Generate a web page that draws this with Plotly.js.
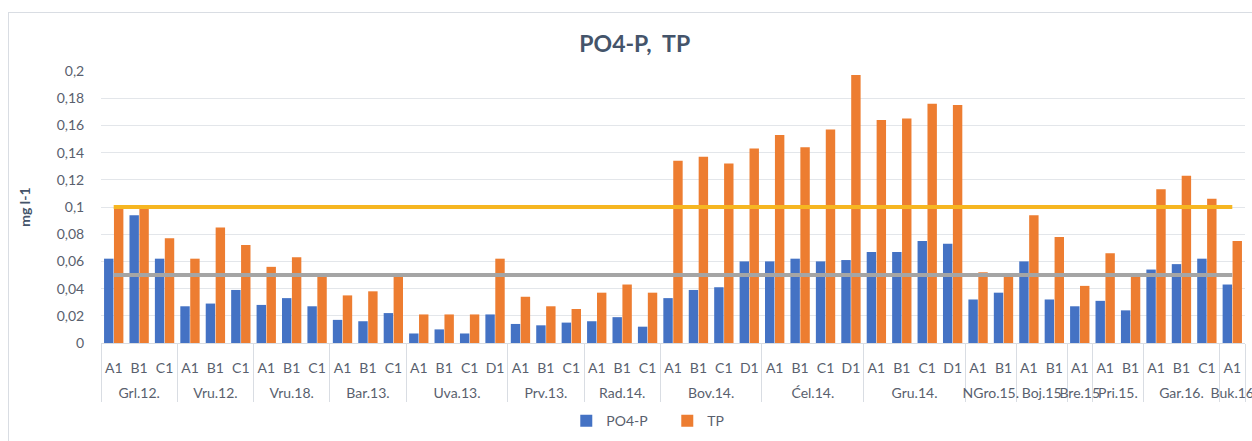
<!DOCTYPE html>
<html>
<head>
<meta charset="utf-8">
<script src="https://cdn.plot.ly/plotly-3.0.1.min.js"></script>
<style>
  body { margin: 0; background: #fff; }
  #plot { width: 1252px; height: 441px; }
  #frame { position: absolute; left: 8px; top: 12px; width: 1260px; height: 440px;
           border: 1px solid #d9dde3; pointer-events: none; }
</style>
</head>
<body>
<div id="plot"></div>
<div id="frame"></div>
<script>
// stations and the samples taken at each one
let stations = ['Grl.12.', 'Vru.12.', 'Vru.18.', 'Bar.13.', 'Uva.13.', 'Prv.13.', 'Rad.14.',
                'Bov.14.', 'Ćel.14.', 'Gru.14.', 'NGro.15.', 'Boj.15', 'Bre.15', 'Pri.15.',
                'Gar.16.', 'Buk.16'];
let samples = [
  ['A1', 'B1', 'C1'], ['A1', 'B1', 'C1'], ['A1', 'B1', 'C1'], ['A1', 'B1', 'C1'],
  ['A1', 'B1', 'C1', 'D1'], ['A1', 'B1', 'C1'], ['A1', 'B1', 'C1'],
  ['A1', 'B1', 'C1', 'D1'], ['A1', 'B1', 'C1', 'D1'], ['A1', 'B1', 'C1', 'D1'],
  ['A1', 'B1'], ['A1', 'B1'], ['A1'], ['A1', 'B1'], ['A1', 'B1', 'C1'], ['A1']
];

// mg l-1, one value per sample in the order above
let po4 = [0.062, 0.094, 0.062,  0.027, 0.029, 0.039,  0.028, 0.033, 0.027,  0.017, 0.016, 0.022,
           0.007, 0.010, 0.007, 0.021,  0.014, 0.013, 0.015,  0.016, 0.019, 0.012,
           0.033, 0.039, 0.041, 0.060,  0.060, 0.062, 0.060, 0.061,  0.067, 0.067, 0.075, 0.073,
           0.032, 0.037,  0.060, 0.032,  0.027,  0.031, 0.024,  0.054, 0.058, 0.062,  0.043];
let tp  = [0.100, 0.100, 0.077,  0.062, 0.085, 0.072,  0.056, 0.063, 0.049,  0.035, 0.038, 0.049,
           0.021, 0.021, 0.021, 0.062,  0.034, 0.027, 0.025,  0.037, 0.043, 0.037,
           0.134, 0.137, 0.132, 0.143,  0.153, 0.144, 0.157, 0.197,  0.164, 0.165, 0.176, 0.175,
           0.052, 0.049,  0.094, 0.078,  0.042,  0.066, 0.049,  0.113, 0.123, 0.106,  0.075];

// limit lines
let tpLimit = 0.1;
let po4Limit = 0.05;

let yTicks = [0, 0.02, 0.04, 0.06, 0.08, 0.1, 0.12, 0.14, 0.16, 0.18, 0.2];
let yTickText = ['0', '0,02', '0,04', '0,06', '0,08', '0,1', '0,12', '0,14', '0,16', '0,18', '0,2'];

// flatten to multicategory x (leading blank line pushes the station row down)
let xStation = [];
let xSample = [];
stations.forEach((s, i) => {
  samples[i].forEach(p => { xStation.push('\u00a0<br>' + s); xSample.push(p); });
});
let ends = [[xStation[0], xStation[xStation.length - 1]], [xSample[0], xSample[xSample.length - 1]]];

let tracePO4 = {
  x: [xStation, xSample], y: po4, type: 'bar', name: 'PO4-P',
  marker: { color: '#4472C4' }
};
let traceTP = {
  x: [xStation, xSample], y: tp, type: 'bar', name: 'TP',
  marker: { color: '#ED7D31' }
};
let lineTP = {
  x: ends, y: [tpLimit, tpLimit], type: 'scatter', mode: 'lines',
  line: { color: '#F6B621', width: 4 }, showlegend: false, hoverinfo: 'skip'
};
let linePO4 = {
  x: ends, y: [po4Limit, po4Limit], type: 'scatter', mode: 'lines',
  line: { color: '#A5A5A5', width: 4 }, showlegend: false, hoverinfo: 'skip'
};

let data = [tracePO4, traceTP, lineTP, linePO4];

let layout = {
  width: 1252, height: 441,
  margin: { l: 101, r: 7, t: 71, b: 98, autoexpand: false },
  paper_bgcolor: 'rgba(0,0,0,0)',
  plot_bgcolor: '#fff',
  font: { family: 'Lato, "Open Sans", sans-serif', color: '#595f6e', size: 14 },
  title: {
    text: '<b>PO4-P,  TP</b>', x: 0.507, xanchor: 'center', y: 0.9, yanchor: 'middle',
    font: { size: 23, color: '#44546A', family: 'Lato, sans-serif' }
  },
  barmode: 'group',
  bargap: 0.22,
  bargroupgap: 0.05,
  showlegend: true,
  legend: {
    orientation: 'h', x: 0.495, xanchor: 'center', y: -0.287, yanchor: 'middle',
    font: { size: 14, color: '#595f6e' }, entrywidth: 56, itemwidth: 30, tracegroupgap: 0
  },
  xaxis: {
    type: 'multicategory',
    automargin: false,
    tickangle: 0,
    showdividers: true, dividercolor: '#d9dde3', dividerwidth: 1,
    showline: true, linecolor: '#d9dde3',
    ticks: 'outside', ticklen: 14, tickcolor: 'rgba(0,0,0,0)',
    ticklabelstandoff: 12,
    tickfont: { size: 14, color: '#595f6e' },
    showgrid: false, zeroline: false
  },
  yaxis: {
    automargin: false,
    range: [0, 0.2],
    tickvals: yTicks, ticktext: yTickText,
    showgrid: true, gridcolor: '#e3e6ea', gridwidth: 1,
    zeroline: false,
    ticks: 'outside', ticklen: 13, tickcolor: 'rgba(0,0,0,0)',
    tickfont: { size: 14, color: '#595f6e' },
    title: { text: '<b>mg l-1</b>', standoff: 22, font: { size: 14, color: '#44546A' } }
  }
};

Plotly.newPlot('plot', data, layout, { displayModeBar: false, staticPlot: true });
</script>
</body>
</html>
